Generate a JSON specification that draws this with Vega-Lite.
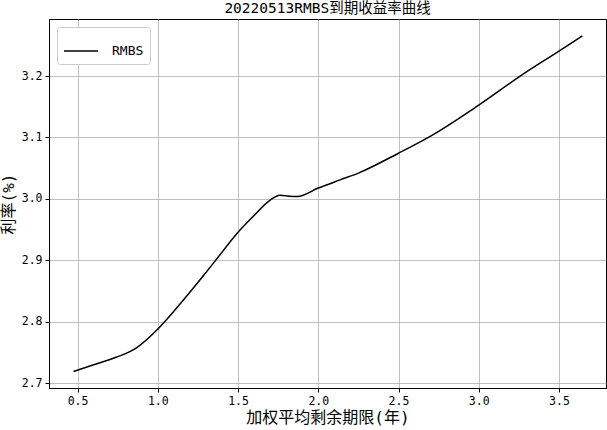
{
  "$schema": "https://vega.github.io/schema/vega-lite/v6.json",
  "autosize": "none",
  "width": 557,
  "height": 369,
  "padding": {"left": 49, "top": 19, "right": 1, "bottom": 42},
  "background": "white",
  "title": {"text": "20220513RMBS到期收益率曲线", "fontSize": 14.5, "fontWeight": "normal", "font": "DejaVu Sans Mono, Noto Sans CJK SC", "color": "black", "offset": 3},
  "config": {
    "font": "DejaVu Sans Mono, Noto Sans CJK SC",
    "view": {"stroke": "black", "strokeWidth": 1},
    "axis": {"domainColor": "black", "tickColor": "black", "tickSize": 4, "labelFontSize": 11.5, "labelColor": "black", "titleColor": "black", "titleFontWeight": "normal", "titleFontSize": 16, "gridColor": "#b0b0b0", "gridWidth": 0.8, "labelFont": "DejaVu Sans Mono", "titleFont": "DejaVu Sans Mono, Noto Sans CJK SC"}
  },
  "data": {"values": [
    {"x": 0.475, "y": 2.719, "s": "RMBS"},
    {"x": 0.6, "y": 2.730, "s": "RMBS"},
    {"x": 0.74, "y": 2.742, "s": "RMBS"},
    {"x": 0.865, "y": 2.757, "s": "RMBS"},
    {"x": 1.0, "y": 2.788, "s": "RMBS"},
    {"x": 1.1, "y": 2.817, "s": "RMBS"},
    {"x": 1.2, "y": 2.848, "s": "RMBS"},
    {"x": 1.3, "y": 2.880, "s": "RMBS"},
    {"x": 1.365, "y": 2.9015, "s": "RMBS"},
    {"x": 1.5, "y": 2.9457, "s": "RMBS"},
    {"x": 1.6, "y": 2.973, "s": "RMBS"},
    {"x": 1.7, "y": 2.998, "s": "RMBS"},
    {"x": 1.76, "y": 3.006, "s": "RMBS"},
    {"x": 1.82, "y": 3.0045, "s": "RMBS"},
    {"x": 1.87, "y": 3.004, "s": "RMBS"},
    {"x": 2.0, "y": 3.0177, "s": "RMBS"},
    {"x": 2.136, "y": 3.031, "s": "RMBS"},
    {"x": 2.25, "y": 3.042, "s": "RMBS"},
    {"x": 2.5, "y": 3.0744, "s": "RMBS"},
    {"x": 2.719, "y": 3.1052, "s": "RMBS"},
    {"x": 3.0, "y": 3.1527, "s": "RMBS"},
    {"x": 3.281, "y": 3.204, "s": "RMBS"},
    {"x": 3.5, "y": 3.2407, "s": "RMBS"},
    {"x": 3.646, "y": 3.2657, "s": "RMBS"}
  ]},
  "mark": {"type": "line", "interpolate": "monotone", "strokeWidth": 1.5},
  "encoding": {
    "x": {"field": "x", "type": "quantitative", "scale": {"domain": [0.322, 3.793], "nice": false, "zero": false},
      "axis": {"values": [0.5, 1.0, 1.5, 2.0, 2.5, 3.0, 3.5], "format": ".1f", "title": "加权平均剩余期限(年)", "titlePadding": 3, "labelPadding": 3}},
    "y": {"field": "y", "type": "quantitative", "scale": {"domain": [2.692, 3.293], "nice": false, "zero": false},
      "axis": {"values": [2.7, 2.8, 2.9, 3.0, 3.1, 3.2], "format": ".1f", "title": "利率(%)", "titlePadding": 5, "labelPadding": 3}},
    "color": {"field": "s", "type": "nominal", "scale": {"range": ["black"]},
      "legend": {"title": null, "orient": "none", "legendX": 8, "legendY": 8, "padding": 6, "strokeColor": "#cccccc", "fillColor": "white", "cornerRadius": 3, "symbolType": "stroke", "symbolSize": 1156, "symbolStrokeWidth": 1.5, "labelFontSize": 13, "labelColor": "black", "labelOffset": 13, "labelFont": "DejaVu Sans Mono"}}
  }
}
